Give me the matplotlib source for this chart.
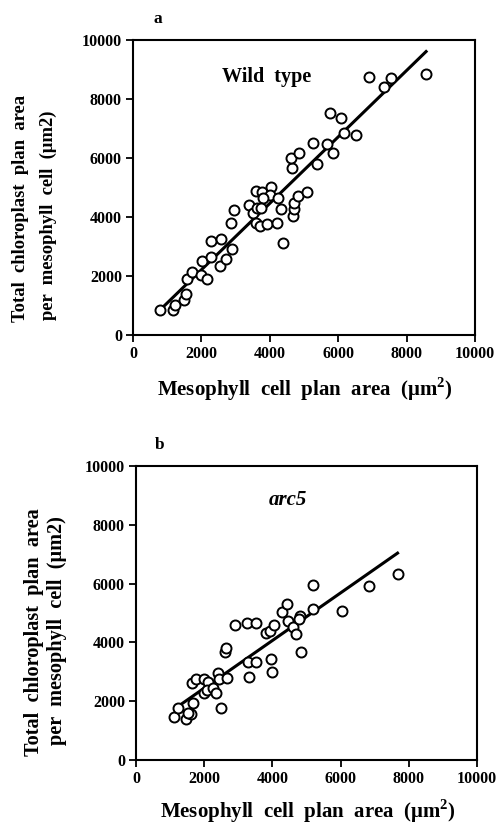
import matplotlib
matplotlib.use("Agg")
import matplotlib.pyplot as plt
import numpy as np

# ---- data: panel a (Wild type) ----
wt_x = [789, 1179, 1228, 1501, 1550, 1589, 1715, 1979, 2173, 2008, 2281, 2281, 2573,
        2544, 2710, 2885, 2865, 2953, 3392, 3500, 3596, 3762, 4035, 4006, 3791, 3616,
        3733, 3596, 3713, 3908, 4220, 4230, 4327, 4376, 4688, 4708, 4708, 4834, 5078,
        4639, 4620, 4863, 5390, 5273, 5663, 5857, 5760, 6082, 6179, 6511, 6910, 7339,
        7535, 8567]
wt_y = [847, 847, 1017, 1186, 1390, 1887, 2136, 2034, 1898, 2520, 2655, 3197, 3243,
        2339, 2565, 2905, 3786, 4237, 4407, 4147, 4892, 4859, 5028, 4746, 4633, 4294,
        4294, 3786, 3695, 3751, 3786, 4633, 4260, 3130, 4034, 4260, 4486, 4712, 4859,
        5650, 5989, 6158, 5797, 6497, 6475, 6180, 7536, 7345, 6859, 6780, 8756, 8417,
        8723, 8847]
wt_fit = {"slope": 1.126, "intercept": -41, "xmin": 770, "xmax": 8570}

# ---- data: panel b (arc5) ----
arc_x = [1124, 1222, 1466, 1613, 1535, 1662, 1632, 1750, 1994, 1994, 2121, 2072, 2268,
         2346, 2414, 2444, 2483, 2610, 2639, 2659, 2903, 3246, 3510, 3294, 3519, 3314,
         3812, 3930, 4047, 3959, 3978, 4272, 4418, 4467, 4594, 4682, 4809, 4790, 4829,
         5181, 6050, 5181, 6843, 7693]
arc_y = [1474, 1757, 1394, 1565, 1610, 1950, 2630, 2744, 2744, 2268, 2664, 2381, 2438,
         2268, 2970, 2766, 1757, 3684, 3798, 2778, 4592, 4670, 4670, 3344, 3344, 2812,
         4308, 4399, 4592, 3424, 3004, 5045, 5306, 4739, 4512, 4286, 4898, 4800, 3662,
         5125, 5068, 5952, 5918, 6327]
arc_fit = {"slope": 0.81, "intercept": 824, "xmin": 1200, "xmax": 7670}

ticks = [0, 2000, 4000, 6000, 8000, 10000]
xlabel = "Mesophyll  cell  plan  area  (\u03bcm$^{\\mathbf{2}}$)"
ylabel1 = "Total  chloroplast  plan  area"
ylabel2 = "per  mesophyll  cell  (\u03bcm2)"

plt.rcParams['font.family'] = ['Liberation Serif', 'DejaVu Serif']
plt.rcParams['font.weight'] = 'bold'
plt.rcParams['mathtext.fontset'] = 'custom'
plt.rcParams['mathtext.bf'] = 'Liberation Serif:bold'
plt.rcParams['mathtext.rm'] = 'Liberation Serif:bold'

W, H = 501, 827
fig = plt.figure(figsize=(W / 100, H / 100), dpi=100)

def make_ax(l, r, t, b):
    return fig.add_axes([l / W, 1 - b / H, (r - l) / W, (b - t) / H])

def ftext(x, y, s, **kw):
    fig.text(x / W, 1 - y / H, s, **kw)

panels = [
    dict(ax=make_ax(133, 475, 40, 335), xs=wt_x, ys=wt_y, fit=wt_fit, lab="a",
         labx=0.06, name="Wild  type", style='normal', npos=(0.39, 0.873), nsize=14.5,
         yl=((21, 208, 13.4), (48, 215, 13.4)), xl=(305, 389)),
    dict(ax=make_ax(136, 477, 466, 760), xs=arc_x, ys=arc_y, fit=arc_fit, lab="b",
         labx=0.055, name="arc5", style='italic', npos=(0.446, 0.885), nsize=15,
         yl=((34, 632, 14.6), (57, 631, 14.6)), xl=(308, 811)),
]

for p in panels:
    ax = p["ax"]
    ax.scatter(p["xs"], p["ys"], s=52, facecolors='white', edgecolors='black',
               linewidths=1.4, zorder=3)
    fit = p["fit"]
    lx = np.array([fit["xmin"], fit["xmax"]])
    ax.plot(lx, fit["intercept"] + fit["slope"] * lx, color='black', lw=2.2, zorder=2)
    ax.set_xlim(0, 10000)
    ax.set_ylim(0, 10000)
    ax.set_xticks(ticks)
    ax.set_yticks(ticks)
    ax.tick_params(direction='out', length=5, width=1.3, labelsize=11.5, pad=3)
    for t in ax.get_xticklabels() + ax.get_yticklabels():
        t.set_fontweight('bold')
    for s in ax.spines.values():
        s.set_linewidth(1.5)
    ftext(p["xl"][0], p["xl"][1], xlabel, fontsize=15, fontweight='bold',
          ha='center', va='center')
    for (x, y, fs), txt in zip(p["yl"], (ylabel1, ylabel2)):
        ftext(x, y, txt, fontsize=fs, fontweight='bold', rotation=90,
              ha='center', va='center')
    ax.text(p["labx"], 1.07, p["lab"], transform=ax.transAxes, fontsize=12.5,
            fontweight='bold', ha='left', va='center')
    ax.text(p["npos"][0], p["npos"][1], p["name"], transform=ax.transAxes,
            fontsize=p["nsize"], fontweight='bold', fontstyle=p["style"],
            ha='center', va='center')

fig.savefig("out.png", dpi=100)
